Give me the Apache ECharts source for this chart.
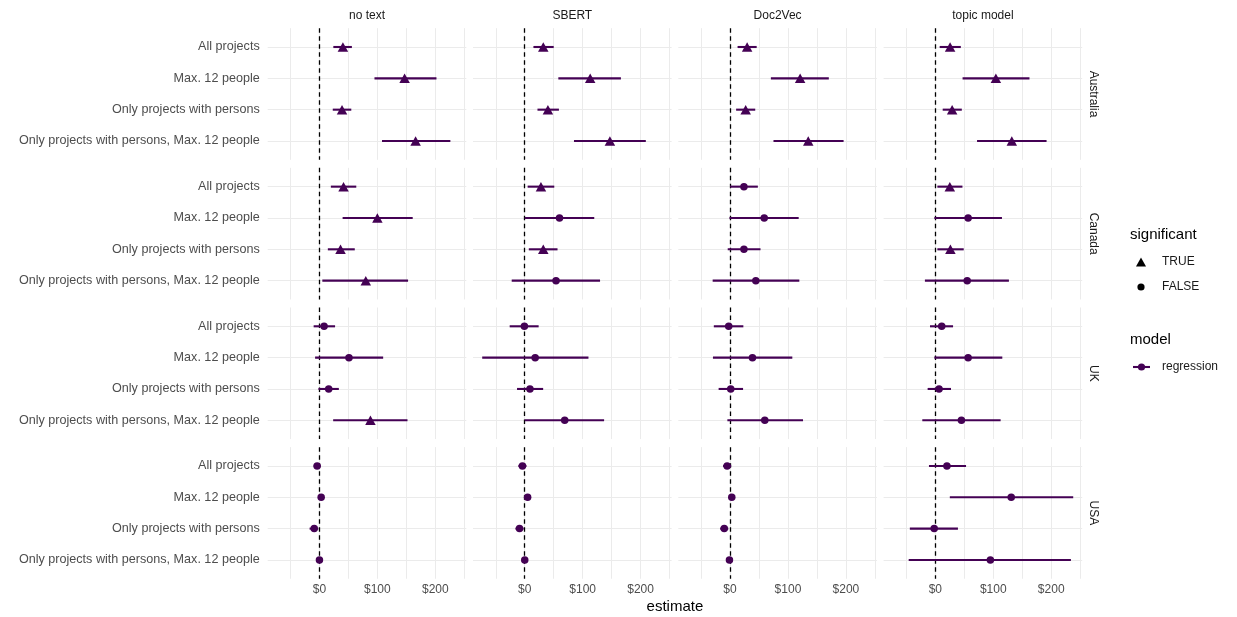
<!DOCTYPE html>
<html><head><meta charset="utf-8">
<script src="https://cdn.jsdelivr.net/npm/echarts@6/dist/echarts.min.js"></script>
<style>html,body{margin:0;padding:0;background:#fff}#c{width:1237px;height:617px}</style>
</head><body><div id="c"></div>
<script>
const methods = ['no text', 'SBERT', 'Doc2Vec', 'topic model'];
const countries = ['Australia', 'Canada', 'UK', 'USA'];
const subsets = ['All projects', 'Max. 12 people', 'Only projects with persons', 'Only projects with persons, Max. 12 people'];
const xGridValues = [-50, 0, 50, 100, 150, 200, 250];
const xLabelValues = [0, 100, 200];

// rows = method (no text, SBERT, Doc2Vec, topic model); columns = subset
const australiaEst  = [[40.5, 147, 39, 166], [32, 113, 40, 147], [29.5, 121, 27, 135], [25.5, 104.5, 29, 132]];
const australiaLow  = [[24, 95, 23, 108], [15, 58, 22, 85], [13, 70.5, 10.5, 75], [7.5, 47, 12.7, 72]];
const australiaHigh = [[56, 202, 55, 226], [50, 166, 59, 209], [46, 170.5, 43.5, 196], [44, 162.5, 45.7, 192]];
const australiaSig  = [[1,1,1,1], [1,1,1,1], [1,1,1,1], [1,1,1,1]];

const canadaEst  = [[41.6, 100, 36.4, 80], [28, 60, 32, 54], [24, 59, 24, 44.5], [25, 56.6, 26, 55]];
const canadaLow  = [[19.7, 40, 14.5, 5], [5, 0, 7, -22.5], [0, -1, -4, -30], [3.5, -1.7, 3.5, -18]];
const canadaHigh = [[63.6, 161, 61, 153], [51, 120, 56.6, 130], [48, 118.5, 52.6, 119.6], [46.8, 115, 49, 127]];
const canadaSig  = [[1,1,1,1], [1,0,1,0], [0,0,0,0], [1,0,1,0]];

const ukEst  = [[8, 51, 16, 88], [-0.6, 18, 9, 69], [-2.3, 38.7, 1.2, 60], [11, 56.6, 6.4, 45]];
const ukLow  = [[-10, -7.5, -1.7, 23.7], [-26, -73.4, -13.3, 0], [-28, -29.5, -19.7, -4.6], [-9.2, -1.7, -13.3, -22.5]];
const ukHigh = [[27, 110, 33.5, 152], [24, 110, 31.8, 137], [23, 107.5, 22.5, 126], [30.6, 115.6, 27, 112.7]];
const ukSig  = [[0,0,0,1], [0,0,0,0], [0,0,0,0], [0,0,0,0]];

const usaEst  = [[-4, 3, -9, 0], [-4, 5, -9, 0], [-5, 3, -10, -1], [20, 131, -2, 95]];
const usaLow  = [[-10, -2, -17, -5], [-11, 0, -16, -5], [-12, -2, -17, -6], [-11, 25, -44, -46]];
const usaHigh = [[2, 7, -2, 3], [3, 10, -2, 5], [2, 8, -3, 4], [53, 238, 39, 234]];
const usaSig  = [[0,0,0,0], [0,0,0,0], [0,0,0,0], [0,0,0,0]];

const countryData = [
  [australiaEst, australiaLow, australiaHigh, australiaSig],
  [canadaEst, canadaLow, canadaHigh, canadaSig],
  [ukEst, ukLow, ukHigh, ukSig],
  [usaEst, usaLow, usaHigh, usaSig]
];

const COL = '#440154';
const FONT = 'Liberation Sans, Arial, sans-serif';
const L0 = 267.7, DX = 205.3, PW = 198.6, T0 = 28.2, DY = 139.65, PH = 131.6;
const XMIN = -89.3, XMAX = 253.5;

const grids = [], xAxes = [], yAxes = [], series = [], graphics = [];
for (let r = 0; r < 4; r++) {
  for (let c = 0; c < 4; c++) {
    const g = r * 4 + c;
    grids.push({left: L0 + c * DX, top: T0 + r * DY, width: PW, height: PH, containLabel: false});
    xAxes.push({
      type: 'value', gridIndex: g, min: XMIN, max: XMAX,
      axisLine: {show: false},
      axisTick: {show: false, customValues: xGridValues},
      splitLine: {show: true, lineStyle: {color: '#ebebeb', width: 1}},
      axisLabel: {show: r === 3, customValues: xLabelValues, formatter: v => '$' + v,
        color: '#4d4d4d', fontSize: 12, fontFamily: FONT, margin: 5}
    });
    yAxes.push({
      type: 'value', gridIndex: g, min: 0.4, max: 4.6, inverse: true,
      axisLine: {show: false},
      axisTick: {show: false, customValues: [1, 2, 3, 4]},
      splitLine: {show: true, lineStyle: {color: '#ebebeb', width: 1}},
      axisLabel: {show: c === 0, customValues: [1, 2, 3, 4], formatter: v => subsets[Math.round(v) - 1],
        color: '#4d4d4d', fontSize: 12.6, fontFamily: FONT, margin: 8}
    });
    const [E, Lo, Hi, S] = countryData[r];
    const bars = subsets.map((s, i) => [Lo[c][i], Hi[c][i], i + 1]);
    const pts = subsets.map((s, i) => [E[c][i], i + 1, S[c][i]]);
    series.push({
      type: 'custom', xAxisIndex: g, yAxisIndex: g, data: bars, z: 3,
      encode: {x: [0, 1], y: 2},
      renderItem: (params, api) => {
        const p1 = api.coord([api.value(0), api.value(2)]);
        const p2 = api.coord([api.value(1), api.value(2)]);
        return {type: 'line', shape: {x1: p1[0], y1: p1[1], x2: p2[0], y2: p2[1]},
          style: {stroke: COL, lineWidth: 2.1}};
      },
      markLine: {silent: true, symbol: 'none', label: {show: false}, z: 2,
        lineStyle: {color: '#000', type: [4.5, 3.5], width: 1.3, opacity: 1},
        data: [{xAxis: 0}]}
    });
    series.push({
      type: 'scatter', xAxisIndex: g, yAxisIndex: g, data: pts, z: 4,
      symbol: v => v[2] ? 'triangle' : 'circle',
      symbolSize: v => v[2] ? [10.5, 9.5] : 7.5,
      itemStyle: {color: COL, opacity: 1}
    });
  }
}

for (let c = 0; c < 4; c++) {
  graphics.push({type: 'text', x: L0 + c * DX + PW / 2, y: 16,
    style: {text: methods[c], fill: '#1a1a1a', font: '12px ' + FONT, textAlign: 'center', textVerticalAlign: 'middle'}});
}
for (let r = 0; r < 4; r++) {
  graphics.push({type: 'text', x: 1093, y: T0 + r * DY + PH / 2, rotation: -Math.PI / 2,
    style: {text: countries[r], fill: '#1a1a1a', font: '12px ' + FONT, textAlign: 'center', textVerticalAlign: 'middle'}});
}
graphics.push({type: 'text', x: L0 + (3 * DX + PW) / 2, y: 607,
  style: {text: 'estimate', fill: '#000', font: '15px ' + FONT, textAlign: 'center', textVerticalAlign: 'middle'}});
// legend
graphics.push({type: 'text', x: 1130, y: 235, style: {text: 'significant', fill: '#000', font: '15px ' + FONT, textVerticalAlign: 'middle'}});
graphics.push({type: 'polygon', shape: {points: [[1141, 257.5], [1146, 266.5], [1136, 266.5]]}, style: {fill: '#000'}});
graphics.push({type: 'text', x: 1162, y: 262, style: {text: 'TRUE', fill: '#1a1a1a', font: '12px ' + FONT, textVerticalAlign: 'middle'}});
graphics.push({type: 'circle', shape: {cx: 1141, cy: 287, r: 3.6}, style: {fill: '#000'}});
graphics.push({type: 'text', x: 1162, y: 287, style: {text: 'FALSE', fill: '#1a1a1a', font: '12px ' + FONT, textVerticalAlign: 'middle'}});
graphics.push({type: 'text', x: 1130, y: 340, style: {text: 'model', fill: '#000', font: '15px ' + FONT, textVerticalAlign: 'middle'}});
graphics.push({type: 'line', shape: {x1: 1133, y1: 367, x2: 1150, y2: 367}, style: {stroke: COL, lineWidth: 2.1}});
graphics.push({type: 'circle', shape: {cx: 1141.5, cy: 367, r: 3.6}, style: {fill: COL}});
graphics.push({type: 'text', x: 1162, y: 367, style: {text: 'regression', fill: '#1a1a1a', font: '12px ' + FONT, textVerticalAlign: 'middle'}});

const chart = echarts.init(document.getElementById('c'), null, {renderer: 'canvas'});
chart.setOption({
  backgroundColor: '#fff', animation: false,
  grid: grids, xAxis: xAxes, yAxis: yAxes, series: series, graphic: graphics
});
</script></body></html>
